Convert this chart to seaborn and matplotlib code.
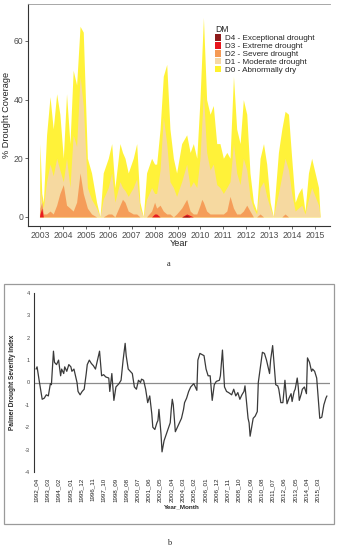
import matplotlib
matplotlib.use("Agg")
import matplotlib.pyplot as plt
from matplotlib.patches import Rectangle, Patch
import seaborn as sns
import pandas as pd
import numpy as np

# ---------------- Panel a data: % drought coverage ----------------
t_year = [2002.98, 2003.00, 2003.08, 2003.15, 2003.29, 2003.44, 2003.58, 2003.73, 2003.87, 2004.02,
          2004.16, 2004.31, 2004.45, 2004.60, 2004.75, 2004.89, 2005.07, 2005.25, 2005.47, 2005.62,
          2005.76, 2005.98, 2006.13, 2006.27, 2006.49, 2006.60, 2006.71, 2006.85, 2007.07, 2007.22,
          2007.36, 2007.51, 2007.65, 2007.87, 2008.00, 2008.09, 2008.24, 2008.38, 2008.53, 2008.67,
          2008.82, 2008.96, 2009.18, 2009.40, 2009.55, 2009.69, 2009.84, 2009.98, 2010.06, 2010.13,
          2010.27, 2010.42, 2010.56, 2010.71, 2010.85, 2011.00, 2011.15, 2011.29, 2011.44, 2011.58,
          2011.73, 2011.87, 2012.02, 2012.16, 2012.31, 2012.45, 2012.60, 2012.75, 2012.89, 2013.04,
          2013.18, 2013.40, 2013.55, 2013.69, 2013.84, 2013.98, 2014.13, 2014.27, 2014.42, 2014.56,
          2014.71, 2014.85, 2015.00, 2015.15, 2015.22]
d0 = [0, 25, 8, 5, 28, 41, 30, 42, 35, 20,
      42, 25, 50, 45, 65, 63, 20, 15, 5, 0,
      15, 20, 25, 10, 25, 22, 20, 15, 20, 25,
      5, 0, 15, 20, 18, 18, 30, 48, 52, 30,
      20, 15, 25, 28, 22, 25, 20, 40, 55, 68,
      40, 35, 38, 25, 25, 20, 22, 20, 48, 30,
      25, 40, 35, 15, 5, 2, 20, 25, 18, 5,
      0, 22, 30, 36, 35, 20, 5, 8, 10, 2,
      15, 20, 15, 10, 0]
d1 = [0, 10, 5, 3, 12, 18, 14, 20, 16, 12,
      20, 10, 28, 24, 48, 38, 10, 6, 3, 0,
      6, 10, 15, 5, 12, 10, 9, 7, 10, 13,
      3, 0, 6, 10, 8, 8, 16, 34, 25, 12,
      10, 7, 12, 18, 10, 12, 10, 20, 32, 42,
      22, 16, 18, 11, 10, 8, 10, 12, 25, 15,
      11, 20, 16, 7, 3, 1, 10, 12, 7, 3,
      0, 8, 14, 20, 16, 8, 2, 3, 4, 1,
      6, 10, 7, 4, 0]
d2 = [0, 3, 5, 1, 1, 2, 1, 4, 8, 11,
      4, 3, 2, 5, 15, 8, 3, 1, 0, 0,
      0, 1, 1, 0, 4, 6, 5, 2, 1, 1,
      0, 0, 0, 2, 5, 3, 4, 2, 1, 1,
      0, 1, 3, 6, 2, 1, 1, 4, 6, 5,
      2, 1, 1, 1, 1, 1, 2, 7, 3, 1,
      1, 2, 4, 2, 0, 0, 1, 0, 0, 0,
      0, 0, 0, 1, 0, 0, 0, 0, 0, 0,
      0, 0, 0, 0, 0]
d3 = [0, 1, 3, 0, 0, 0, 0, 0, 0, 0,
      0, 0, 0, 0, 0, 0, 0, 0, 0, 0,
      0, 0, 0, 0, 0, 0, 0, 0, 0, 0,
      0, 0, 0, 0, 1, 1, 0, 0, 0, 0,
      0, 0, 0, 1, 0.5, 0, 0, 0, 0, 0,
      0, 0, 0, 0, 0, 0, 0, 0, 0, 0,
      0, 0, 0, 0, 0, 0, 0, 0, 0, 0,
      0, 0, 0, 0, 0, 0, 0, 0, 0, 0,
      0, 0, 0, 0, 0]
d4 = [0, 0, 0, 0, 0, 0, 0, 0, 0, 0,
      0, 0, 0, 0, 0, 0, 0, 0, 0, 0,
      0, 0, 0, 0, 0, 0, 0, 0, 0, 0,
      0, 0, 0, 0, 0, 0, 0, 0, 0, 0,
      0, 0, 0, 0.5, 0, 0, 0, 0, 0, 0,
      0, 0, 0, 0, 0, 0, 0, 0, 0, 0,
      0, 0, 0, 0, 0, 0, 0, 0, 0, 0,
      0, 0, 0, 0, 0, 0, 0, 0, 0, 0,
      0, 0, 0, 0, 0]
dm_labels = ["D4 - Exceptional drought", "D3 - Extreme drought", "D2 - Severe drought",
             "D1 - Moderate drought", "D0 - Abnormally dry"]
year_ticks = list(range(2003, 2016))

# ---------------- Panel b data: PDSI ----------------
month_idx = [0, 1, 3, 6, 8, 10, 12, 14, 15, 17, 18, 20, 22, 24, 25, 27, 28, 30, 32, 34,
             35, 37, 39, 40, 41, 43, 45, 47, 49, 50, 52, 54, 56, 58, 60, 62, 64, 66, 68, 71,
             72, 74, 76, 78, 81, 83, 85, 87, 88, 90, 92, 94, 96, 98, 100, 102, 103, 105, 107, 109,
             111, 113, 114, 116, 118, 119, 120, 122, 123, 125, 128, 131, 132, 133, 134, 136, 138, 140, 142, 144,
             145, 147, 149, 151, 154, 155, 157, 158, 160, 162, 164, 166, 168, 170, 172, 174, 176, 179, 180, 182,
             184, 186, 188, 191, 193, 195, 197, 199, 201, 203, 204, 207, 208, 209, 212, 214, 216, 217, 220, 221,
             223, 225, 226, 228, 229, 231, 233, 234, 236, 237, 239, 241, 243, 245, 247, 249, 250, 252, 253, 255,
             256, 257, 259, 260, 262, 264, 265, 267, 269, 270, 272, 274, 276, 277, 279, 281, 283, 284]
pdsi = [0.6, 0.7, 0.1, -0.75, -0.7, -0.55, -0.6, -0.05, -0.1, 1.4, 0.9, 0.8, 1.0, 0.3, 0.6, 0.4, 0.7, 0.5, 0.8, 0.7,
        0.5, 0.6, 0.2, 0.0, -0.4, -0.55, -0.4, -0.3, 0.4, 0.8, 1.0, 0.85, 0.75, 0.6, 1.0, 1.4, 0.3, 0.35, 0.25, 0.2,
        -0.4, 0.4, -0.8, -0.2, -0.05, 0.1, 1.0, 1.75, 1.2, 0.6, 0.5, 0.4, -0.2, -0.3, 0.1, 0.0, 0.15, 0.1, -0.3, -0.9,
        -0.6, -1.4, -2.0, -2.1, -1.8, -1.7, -1.2, -2.3, -3.1, -2.6, -2.2, -1.8, -1.2, -0.75, -1.0, -2.2, -2.0, -1.8, -1.6, -1.2,
        -0.9, -0.7, -0.4, -0.2, -0.05, -0.15, -0.35, 1.0, 1.3, 1.25, 1.2, 0.6, 0.3, 0.3, -0.8, -0.1, 0.05, 0.1, 0.3, 1.45,
        -0.2, -0.4, -0.45, -0.55, -0.3, -0.6, -0.45, -0.75, -0.55, -0.4, -0.15, -1.6, -1.8, -2.4, -1.6, -1.5, -1.3, 0.0, 1.0, 1.35,
        1.3, 1.0, 0.8, 0.4, 1.0, 1.65, 0.5, -0.1, -0.15, -0.3, -0.9, -0.9, 0.1, -0.95, -0.7, -0.5, -0.85, -0.4, -0.3, 0.2,
        -0.2, -0.8, -0.5, -0.3, -0.2, -0.5, 1.1, 0.9, 0.5, 0.6, 0.5, 0.2, -1.0, -1.6, -1.55, -1.0, -0.7, -0.6]
ym_labels = ["1992_04", "1993_03", "1994_02", "1995_01", "1995_12", "1996_11", "1997_10", "1998_09",
             "1999_08", "2000_07", "2001_06", "2002_05", "2003_04", "2004_03", "2005_02", "2006_01",
             "2006_12", "2007_11", "2008_10", "2009_09", "2010_08", "2011_07", "2012_06", "2013_05",
             "2014_04", "2015_03"]
ym_tick_pos = [0, 11, 22, 33, 44, 55, 66, 77, 88, 99, 110, 121, 132, 143, 154, 165, 176, 187, 198,
               209, 220, 231, 242, 253, 264, 275]

# ---------------- Figure ----------------
sns.set_style("white")
plt.rcParams['font.family'] = ['Liberation Sans', 'DejaVu Sans']
W, H = 337, 550
fig = plt.figure(figsize=(W / 100, H / 100), dpi=100)

# Panel a
ax1 = fig.add_axes([28 / W, 1 - 226 / H, 302 / W, 222 / H])
cols = {"D0": "#FFF22E", "D1": "#F6D8A6", "D2": "#F59A55", "D3": "#E8141C", "D4": "#8E1B1B"}
dfa = pd.DataFrame({"t": t_year, "D0": d0, "D1": d1, "D2": d2, "D3": d3, "D4": d4})
for key in ["D0", "D1", "D2", "D3", "D4"]:
    ax1.fill_between(dfa["t"], 0, dfa[key], color=cols[key], lw=0, alpha=0.95)
ax1.set_xlim(2002.48, 2015.65)
ax1.set_ylim(-3.1, 72.6)
ax1.set_xticks(year_ticks)
ax1.set_xticklabels([str(y) for y in year_ticks])
ax1.set_yticks([0, 20, 40, 60])
ax1.tick_params(axis='both', labelsize=6.2, colors='#4d4d4d', length=2, width=0.6, pad=1.5,
                bottom=True, left=True)
ax1.set_xlabel("Year", fontsize=6.6, labelpad=-0.5, color='#222222')
ax1.set_ylabel("% Drought Coverage", fontsize=6.6, labelpad=2, color='#222222')
for s in ["left", "bottom"]:
    ax1.spines[s].set_color('#333333')
    ax1.spines[s].set_linewidth(0.8)
ax1.spines["top"].set_color('#999999')
ax1.spines["top"].set_linewidth(0.6)
ax1.spines["right"].set_visible(False)
handles = [Patch(facecolor=cols[k], edgecolor='none') for k in ["D4", "D3", "D2", "D1", "D0"]]
leg = ax1.legend(handles, dm_labels, title="DM", loc='upper left', bbox_to_anchor=(0.6, 0.93),
                 frameon=False, fontsize=5.9, title_fontsize=6.2, handlelength=0.8, handleheight=0.8,
                 handletextpad=0.4, labelspacing=0.0, borderpad=0.2)
leg._legend_box.align = "left"

# label a
fig.text(169 / W, 1 - 264 / H, "a", fontsize=6, family='Liberation Serif', ha='center', va='center')

# Panel b frame
fig.patches.append(Rectangle((4 / W, 1 - 524 / H), 330 / W, 240 / H, transform=fig.transFigure,
                             fill=False, edgecolor='#9a9a9a', linewidth=0.9))

ax2 = fig.add_axes([34 / W, 1 - 472 / H, 296 / W, 179 / H])
dfb = pd.DataFrame({"month": month_idx, "PDSI": pdsi})
ax2.axhline(0, color='#8c8c8c', lw=0.9, zorder=1)
sns.lineplot(data=dfb, x="month", y="PDSI", ax=ax2, color='#3a3a3a', lw=0.9, zorder=2)
ax2.set_xlim(-2, 287)
ax2.set_ylim(-4, 4)
ax2.set_xticks(ym_tick_pos)
ax2.set_xticklabels(ym_labels, rotation=90, fontsize=4.5, color='#222222')
ax2.set_yticks([-4, -3, -2, -1, 0, 1, 2, 3, 4])
ax2.set_yticklabels(["-4", "-3", "-2", "-1", "0", "1", "2", "3", "4"], fontsize=4.0, color='#444444')
ax2.tick_params(axis='both', length=0, pad=3)
ax2.tick_params(axis='x', pad=4)
ax2.set_xlabel("Year_Month", fontsize=4.6, fontweight='bold', labelpad=2)
ax2.set_ylabel("Palmer Drought Severity Index", fontsize=4.7, fontweight='bold', labelpad=6)
for s in ["top", "right", "bottom"]:
    ax2.spines[s].set_visible(False)
ax2.spines["left"].set_color('#333333')
ax2.spines["left"].set_linewidth(0.8)
ax2.patch.set_alpha(0)

fig.text(169 / W, 1 - 543 / H, "b", fontsize=6, family='Liberation Serif', ha='center', va='center')

fig.savefig("out.png", dpi=100)
